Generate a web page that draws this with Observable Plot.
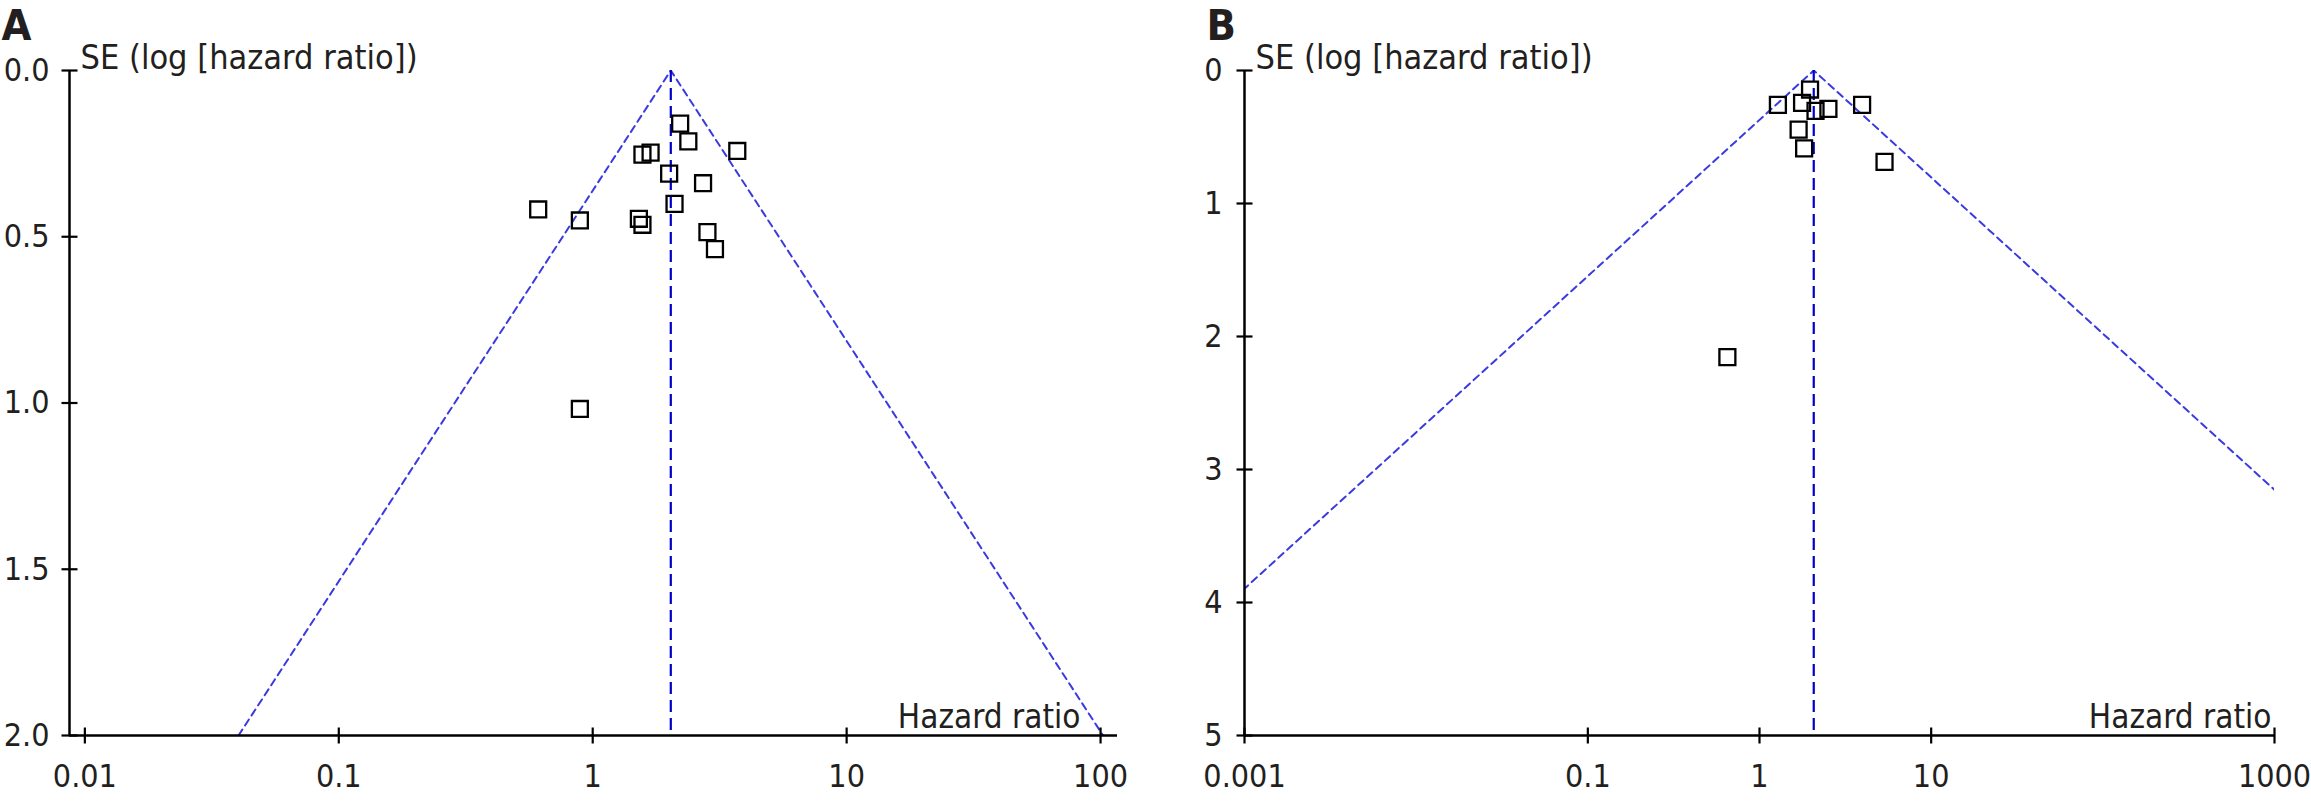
<!DOCTYPE html>
<html>
<head>
<meta charset="utf-8">
<script src="https://cdn.jsdelivr.net/npm/d3@7"></script>
<script src="https://cdn.jsdelivr.net/npm/@observablehq/plot@0.6"></script>
<style>
  html, body { margin: 0; padding: 0; background: #fff; }
  #wrap { position: relative; width: 2311px; height: 805px; overflow: hidden; }
  #panelA { position: absolute; left: 0; top: 0; }
  #panelB { position: absolute; left: 1155px; top: 0; }
</style>
</head>
<body>
<div id="wrap"><div id="panelA"></div><div id="panelB"></div></div>
<script>
// ---- Panel A data ----
const hrA = [2.21, 2.38, 1.57, 1.69, 3.71, 2.00, 2.72, 2.10, 0.61, 0.89, 1.52, 1.57, 2.83, 3.03, 0.89];
const seA = [0.160, 0.213, 0.253, 0.247, 0.242, 0.310, 0.339, 0.401, 0.418, 0.451, 0.446, 0.464, 0.486, 0.537, 1.018];
const pooledA = 2.03;
const xTicksA = [0.01, 0.1, 1, 10, 100];
const xTickLabelsA = ["0.01", "0.1", "1", "10", "100"];
const yTicksA = [0, 0.5, 1, 1.5, 2];
const yTickLabelsA = ["0.0", "0.5", "1.0", "1.5", "2.0"];
const xDomainA = [0.0087, 116.6];
const yDomainA = [0, 2];

// ---- Panel B data ----
const hrB = [1.97, 1.28, 1.77, 2.12, 2.52, 3.96, 1.69, 1.82, 5.35, 0.65];
const seB = [0.143, 0.258, 0.243, 0.303, 0.288, 0.258, 0.444, 0.586, 0.687, 2.155];
const pooledB = 2.07;
const xTicksB = [0.001, 0.1, 1, 10, 1000];
const xTickLabelsB = ["0.001", "0.1", "1", "10", "1000"];
const yTicksB = [0, 1, 2, 3, 4, 5];
const yTickLabelsB = ["0", "1", "2", "3", "4", "5"];
const xDomainB = [0.001, 1000];
const yDomainB = [0, 5];

const yLabel = "SE (log [hazard ratio])";
const xLabel = "Hazard ratio";

const FONT = "'DejaVu Sans Condensed', 'DejaVu Sans', sans-serif";
const TEXT = "#231f20";

const vtick = {draw(ctx) { ctx.moveTo(0, -8); ctx.lineTo(0, 8); }};
const htick = {draw(ctx) { ctx.moveTo(-8, 0); ctx.lineTo(8, 0); }};

function panel(o) {
  const pts = o.hr.map((h, i) => ({hr: h, se: o.se[i]}));
  const seMax = o.yDomain[1];
  const funnel = [
    {x: o.pooled * Math.exp(-1.96 * seMax), y: seMax},
    {x: o.pooled, y: 0},
    {x: o.pooled * Math.exp(1.96 * seMax), y: seMax}
  ];
  const xl = new Map(o.xTicks.map((t, i) => [t, o.xLabels[i]]));
  const yl = new Map(o.yTicks.map((t, i) => [t, o.yLabels[i]]));
  return Plot.plot({
    width: o.width,
    height: 805,
    marginLeft: o.marginLeft,
    marginRight: o.marginRight,
    marginTop: 70,
    marginBottom: 70,
    style: {fontFamily: FONT, fontSize: "32px", color: TEXT, background: "white", overflow: "visible"},
    x: {type: "log", domain: o.xDomain},
    y: {domain: o.yDomain, reverse: true},
    marks: [
      Plot.line(funnel, {x: "x", y: "y", stroke: "#3a3ae0", strokeWidth: 2, strokeDasharray: "7,5", clip: true}),
      Plot.ruleX([o.pooled], {y1: 0, y2: seMax, stroke: "#0000c8", strokeWidth: 2.2, strokeDasharray: "12,6"}),
      Plot.ruleY([o.yDomain[1]], {stroke: "#000", strokeWidth: 2.5}),
      Plot.ruleX([o.xDomain[0]], {y1: o.yDomain[0], y2: o.yDomain[1], stroke: "#000", strokeWidth: 2.5}),
      Plot.dot(o.xTicks, {x: d => d, y: () => o.yDomain[1], symbol: vtick, r: 1, stroke: "#000", strokeWidth: 2.2}),
      Plot.dot(o.yTicks, {x: () => o.xDomain[0], y: d => d, symbol: htick, r: 1, stroke: "#000", strokeWidth: 2.2}),
      Plot.axisX({ticks: o.xTicks, tickFormat: d => xl.get(d), tickSize: 0, tickPadding: 29, fontSize: 32, fill: TEXT}),
      Plot.axisY({ticks: o.yTicks, tickFormat: d => yl.get(d), tickSize: 0, tickPadding: o.yPad, fontSize: 32, fill: TEXT}),
      Plot.dot(pts, {x: "hr", y: "se", symbol: "square", r: 9, stroke: "#000", strokeWidth: 2.3, fill: "none"}),
      Plot.text([o.letter], {frameAnchor: "top-left", dx: o.letterDx, dy: -31, textAnchor: "start", lineAnchor: "bottom", fontSize: 43, fontWeight: "bold", fill: TEXT}),
      Plot.text([yLabel], {frameAnchor: "top-left", dx: 11, dy: -2, textAnchor: "start", lineAnchor: "bottom", fontSize: 34, fill: TEXT}),
      Plot.text([xLabel], {frameAnchor: "bottom-right", dx: o.xLabelDx, dy: -8, textAnchor: "end", lineAnchor: "bottom", fontSize: 33, fill: TEXT})
    ]
  });
}

document.getElementById("panelA").appendChild(panel({
  width: 1155, marginLeft: 69, marginRight: 38,
  hr: hrA, se: seA, pooled: pooledA,
  xTicks: xTicksA, xLabels: xTickLabelsA, yTicks: yTicksA, yLabels: yTickLabelsA,
  xDomain: xDomainA, yDomain: yDomainA, yPad: 20,
  letter: "A", letterDx: -68, xLabelDx: -37
}));
document.getElementById("panelB").appendChild(panel({
  width: 1156, marginLeft: 89, marginRight: 37,
  hr: hrB, se: seB, pooled: pooledB,
  xTicks: xTicksB, xLabels: xTickLabelsB, yTicks: yTicksB, yLabels: yTickLabelsB,
  xDomain: xDomainB, yDomain: yDomainB, yPad: 22,
  letter: "B", letterDx: -38, xLabelDx: -3
}));
</script>
</body>
</html>
